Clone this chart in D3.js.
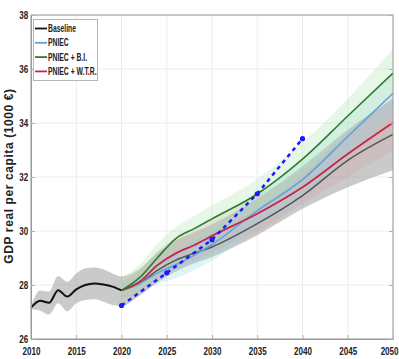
<!DOCTYPE html>
<html>
<head>
<meta charset="utf-8">
<script src="https://cdn.jsdelivr.net/npm/d3@7"></script>
<style>
  body { margin: 0; background: #fff; }
  svg text { font-family: "Liberation Sans", Arial, sans-serif; font-weight: bold; }
</style>
</head>
<body>
<svg width="399" height="359"></svg>
<script>
// historical baseline (2010-2020)
var histYears = [2010, 2011, 2012, 2013, 2014, 2015, 2016, 2017, 2018, 2019, 2020];
var histValues = [27.16, 27.42, 27.34, 27.81, 27.57, 27.84, 28.0, 28.06, 28.02, 27.94, 27.8];
var histLower = [27.1, 27.05, 26.9, 27.32, 27.02, 27.32, 27.44, 27.47, 27.38, 27.26, 27.22];
var histUpper = [27.22, 27.8, 27.76, 28.33, 28.12, 28.43, 28.62, 28.65, 28.58, 28.43, 28.32];

// projections (2020-2050)
var years = [2020, 2022, 2024, 2026, 2028, 2030, 2035, 2040, 2045, 2050];
var baseline = [27.8, 28.06, 28.55, 28.92, 29.17, 29.41, 30.27, 31.31, 32.62, 33.58];
var baselineLower = [27.22, 27.6, 28.1, 28.5, 28.8, 29.04, 29.84, 30.82, 31.62, 32.25];
var baselineUpper = [28.32, 28.6, 29.2, 29.65, 29.95, 30.25, 31.2, 32.4, 33.75, 34.9];
var pniec = [27.8, 28.05, 28.45, 28.75, 29.1, 29.5, 30.75, 31.9, 33.5, 35.1];
var pniecLower = [27.7, 27.75, 28.05, 28.25, 28.55, 28.9, 30.1, 31.2, 32.75, 34.4];
var pniecUpper = [27.95, 28.35, 28.85, 29.25, 29.65, 30.1, 31.4, 32.6, 34.25, 35.8];
var pniecBI = [27.8, 28.27, 29.02, 29.72, 30.08, 30.45, 31.37, 32.66, 34.26, 35.85];
var pniecBILower = [27.4, 27.79, 28.49, 29.29, 29.61, 29.96, 30.81, 32.04, 33.65, 35.05];
var pniecBIUpper = [28.3, 28.75, 29.55, 30.15, 30.55, 30.94, 31.93, 33.28, 34.9, 36.75];
var pniecWTR = [27.8, 28.12, 28.74, 29.17, 29.47, 29.82, 30.64, 31.62, 32.85, 34.01];
var pniecWTRLower = [27.5, 27.7, 28.2, 28.6, 28.9, 29.2, 29.95, 31.0, 32.0, 32.97];
var pniecWTRUpper = [28.1, 28.54, 29.28, 29.74, 30.04, 30.44, 31.33, 32.24, 33.7, 35.05];

// blue dashed trend
var trendYears = [2020, 2025, 2030, 2035, 2040];
var trendValues = [27.24, 28.45, 29.68, 31.38, 33.42];

var xTicks = [2010, 2015, 2020, 2025, 2030, 2035, 2040, 2045, 2050];
var yTicks = [26, 28, 30, 32, 34, 36, 38];
var legendLabels = ['Baseline', 'PNIEC', 'PNIEC + B.I.', 'PNIEC + W.T.R.'];
var legendColors = ['#111111', '#5fa2d8', '#2b7d2b', '#c4264d'];

var svg = d3.select('svg');
var x = d3.scaleLinear().domain([2010, 2050]).range([31, 393]);
var y = d3.scaleLinear().domain([26, 38]).range([339, 15]);

// grid
svg.append('g').selectAll('line').data(xTicks).join('line')
  .attr('x1', d => x(d)).attr('x2', d => x(d))
  .attr('y1', y(26)).attr('y2', y(38))
  .attr('stroke', '#ececec').attr('stroke-width', 1);
svg.append('g').selectAll('line').data(yTicks).join('line')
  .attr('x1', x(2010)).attr('x2', x(2050))
  .attr('y1', d => y(d)).attr('y2', d => y(d))
  .attr('stroke', '#ececec').attr('stroke-width', 1);

function zip(xs, ys) { return xs.map((d, i) => [d, ys[i]]); }
function zipBand(xs, lo, hi) { return xs.map((d, i) => [d, lo[i], hi[i]]); }

var curve = d3.curveMonotoneX;
var line = d3.line().x(d => x(d[0])).y(d => y(d[1])).curve(curve);
var area = d3.area().x(d => x(d[0])).y0(d => y(d[1])).y1(d => y(d[2])).curve(curve);

var plot = svg.append('g');

// bands
var histBand = zipBand(histYears, histLower, histUpper);
var futBand = zipBand(years, baselineLower, baselineUpper);
plot.append('path').attr('d', area(histBand.concat(futBand.slice(1))))
  .attr('fill', '#9e9e9e').attr('fill-opacity', 0.55);
plot.append('path').attr('d', area(zipBand(years, pniecWTRLower, pniecWTRUpper)))
  .attr('fill', '#d88a94').attr('fill-opacity', 0.2);
plot.append('path').attr('d', area(zipBand(years, pniecLower, pniecUpper)))
  .attr('fill', '#8fd9e0').attr('fill-opacity', 0.28);
plot.append('path').attr('d', area(zipBand(years, pniecBILower, pniecBIUpper)))
  .attr('fill', '#b0e6b0').attr('fill-opacity', 0.3);

// lines
plot.append('path').attr('d', line(zip(histYears, histValues)))
  .attr('fill', 'none').attr('stroke', '#111').attr('stroke-width', 2);
plot.append('path').attr('d', line(zip(years, baseline)))
  .attr('fill', 'none').attr('stroke', '#555').attr('stroke-width', 1.5);
plot.append('path').attr('d', line(zip(years, pniec)))
  .attr('fill', 'none').attr('stroke', legendColors[1]).attr('stroke-width', 1.5);
plot.append('path').attr('d', line(zip(years, pniecWTR)))
  .attr('fill', 'none').attr('stroke', legendColors[3]).attr('stroke-width', 1.8);
plot.append('path').attr('d', line(zip(years, pniecBI)))
  .attr('fill', 'none').attr('stroke', legendColors[2]).attr('stroke-width', 1.6);

// dashed trend
var trend = zip(trendYears, trendValues);
plot.append('path').attr('d', d3.line().x(d => x(d[0])).y(d => y(d[1]))(trend))
  .attr('fill', 'none').attr('stroke', '#1a1aff').attr('stroke-width', 2.5)
  .attr('stroke-dasharray', '4,4');
plot.append('g').selectAll('circle').data(trend).join('circle')
  .attr('cx', d => x(d[0])).attr('cy', d => y(d[1])).attr('r', 2.6)
  .attr('fill', '#1a1aff');

// frame + inner ticks
svg.append('rect').attr('x', x(2010)).attr('y', y(38))
  .attr('width', x(2050) - x(2010)).attr('height', y(26) - y(38))
  .attr('fill', 'none').attr('stroke', '#9a9a9a').attr('stroke-width', 1);
var xAxis = svg.append('g').attr('transform', 'translate(0,' + y(26) + ')')
  .call(d3.axisBottom(x).tickValues(xTicks).tickFormat(d3.format('d')).tickSize(-4).tickPadding(8));
var yAxis = svg.append('g').attr('transform', 'translate(' + x(2010) + ',0)')
  .call(d3.axisLeft(y).tickValues(yTicks).tickFormat(d3.format('d')).tickSize(-4).tickPadding(4));
svg.append('g').attr('transform', 'translate(' + x(2050) + ',0)')
  .call(d3.axisRight(y).tickValues(yTicks).tickSize(-4).tickFormat(''))
  .call(g => g.select('.domain').remove());
[xAxis, yAxis].forEach(function (g) {
  g.select('.domain').attr('stroke', '#9a9a9a');
  g.selectAll('.tick text').attr('fill', '#222').style('font-size', '11.5px')
    .attr('transform', 'scale(0.7,1)');
});
svg.selectAll('.tick line').attr('stroke', '#b0b0b0');
// last year label sits against the right edge
xAxis.selectAll('.tick text').filter(d => d === 2050)
  .attr('text-anchor', 'end').attr('x', (398 - x(2050)) / 0.7);

// y label
svg.append('text')
  .attr('transform', 'translate(13,176) rotate(-90)')
  .attr('text-anchor', 'middle')
  .style('font-size', '12px').style('letter-spacing', '0.6px').attr('fill', '#222')
  .text('GDP real per capita (1000 €)');

// legend
var leg = svg.append('g');
leg.append('rect').attr('x', 33.5).attr('y', 19.5).attr('width', 64).attr('height', 61)
  .attr('fill', '#fff').attr('stroke', '#b5b5b5');
var items = leg.selectAll('g.item').data(legendLabels).join('g')
  .attr('transform', (d, i) => 'translate(35,' + (28.5 + i * 14.3) + ')');
items.append('line').attr('x1', 0).attr('x2', 12).attr('y1', 0).attr('y2', 0)
  .attr('stroke', (d, i) => legendColors[i]).attr('stroke-width', 1.8);
items.append('text').attr('x', 13 / 0.68).attr('dy', '0.35em')
  .attr('transform', 'scale(0.68,1)')
  .style('font-size', '10px').attr('fill', '#222')
  .text(d => d);
</script>
</body>
</html>
